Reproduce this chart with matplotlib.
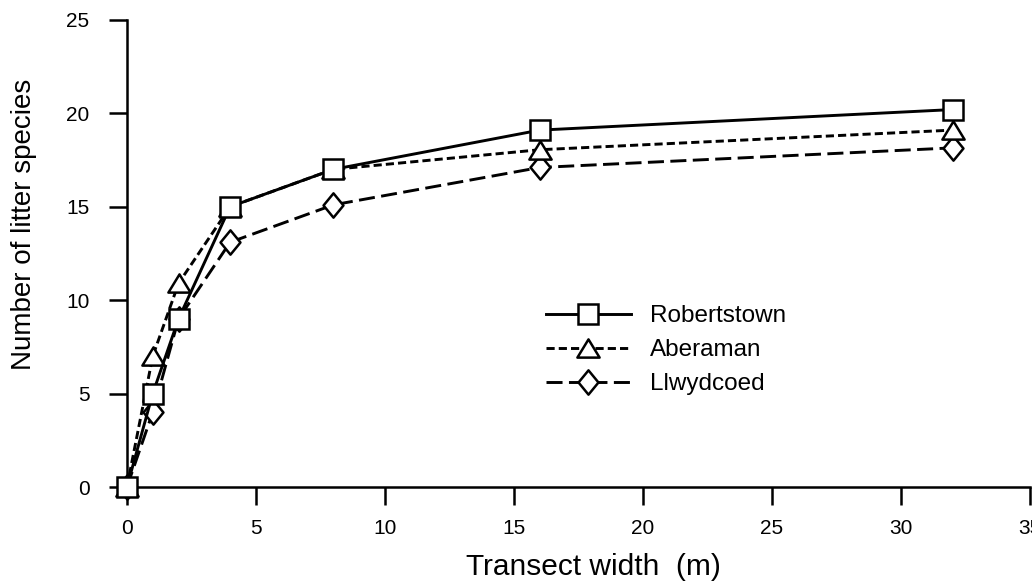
import matplotlib
matplotlib.use("Agg")
import matplotlib.pyplot as plt
from matplotlib.path import Path

plt.rcParams['font.family'] = ['Liberation Sans', 'DejaVu Sans']

widths = [0, 1, 2, 4, 8, 16, 32]
robertstown = [0, 5, 9, 15, 17, 19.1, 20.2]
aberaman = [0, 7, 10.9, 15, 17, 18.05, 19.1]
llwydcoed = [0, 4, 9, 13.1, 15.1, 17.1, 18.15]

x_ticks = [0, 5, 10, 15, 20, 25, 30, 35]
y_ticks = [0, 5, 10, 15, 20, 25]

tri = Path([(0, 0.82), (1, -0.82), (-1, -0.82), (0, 0.82)],
           [Path.MOVETO, Path.LINETO, Path.LINETO, Path.CLOSEPOLY])
dia = Path([(0, 1), (0.82, 0), (0, -1), (-0.82, 0), (0, 1)],
           [Path.MOVETO, Path.LINETO, Path.LINETO, Path.LINETO, Path.CLOSEPOLY])

fig = plt.figure(figsize=(10.32, 5.84), dpi=100)
ax = fig.add_axes([0.123, 0.166, 0.875, 0.800])

common = dict(color='black', markerfacecolor='white', markeredgecolor='black',
              markeredgewidth=1.8, linewidth=2.1, clip_on=False)
ax.plot(widths, llwydcoed, linestyle=(0, (5.5, 2.2)), marker=dia, markersize=17.5,
        label='Llwydcoed', zorder=3, **common)
ax.plot(widths, aberaman, linestyle=(0, (2.8, 1.4)), marker=tri, markersize=16,
        label='Aberaman', zorder=4, **common)
ax.plot(widths, robertstown, linestyle='-', marker='s', markersize=14.5,
        label='Robertstown', zorder=5, **common)

ax.set_xlim(0, 35)
ax.set_ylim(0, 25)
ax.set_xticks(x_ticks)
ax.set_yticks(y_ticks)
ax.set_xticklabels([str(v) for v in x_ticks])
ax.set_yticklabels([str(v) for v in y_ticks])

for s in ['top', 'right']:
    ax.spines[s].set_visible(False)
for s in ['left', 'bottom']:
    ax.spines[s].set_linewidth(1.8)

ax.tick_params(axis='both', direction='out', length=13, width=1.8, labelsize=15)
ax.tick_params(axis='x', pad=10)
ax.tick_params(axis='y', pad=14)

ax.set_xlabel('Transect width  (m)', fontsize=21.5)
ax.set_ylabel('Number of litter species', fontsize=20)
ax.xaxis.set_label_coords(0.517, -0.142)
ax.yaxis.set_label_coords(-0.100, 0.562)

handles, labels = ax.get_legend_handles_labels()
order = [2, 1, 0]
leg = ax.legend([handles[i] for i in order], [labels[i] for i in order],
                loc='center left', bbox_to_anchor=(0.464, 0.293), frameon=False,
                fontsize=17.5, handlelength=3.5, handletextpad=0.8, labelspacing=0.49,
                borderpad=0, borderaxespad=0)

fig.savefig('out.png', dpi=100)
